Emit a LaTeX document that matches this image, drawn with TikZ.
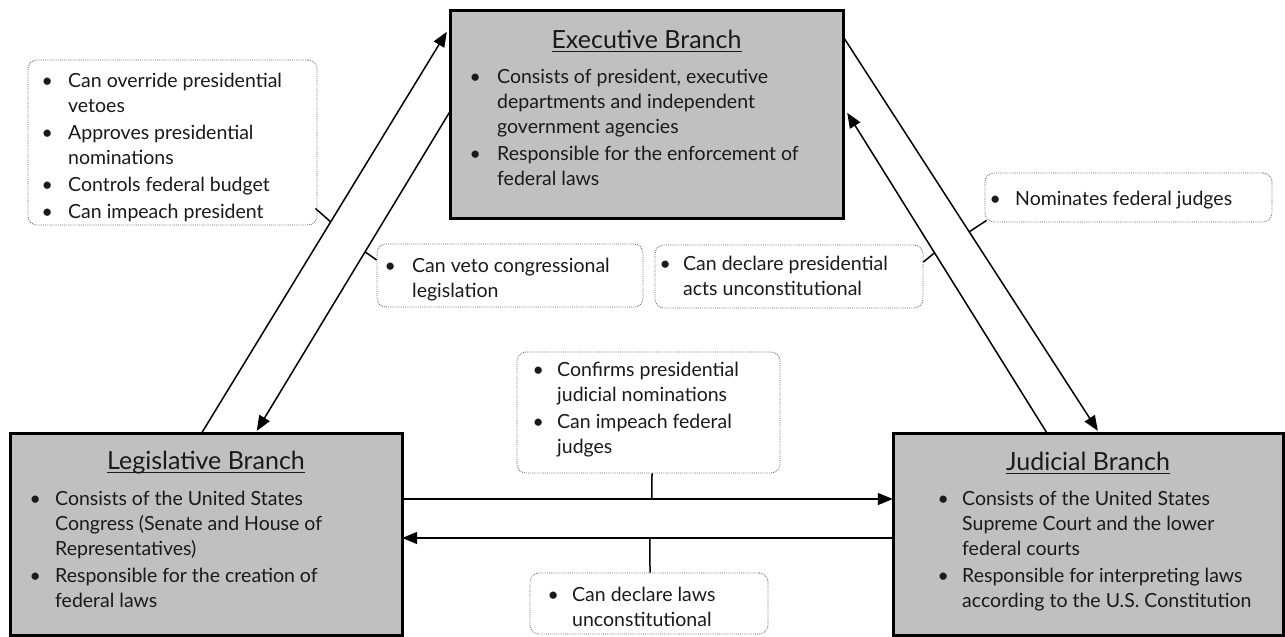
\documentclass[tikz,border=0pt]{standalone}
\usepackage{fontspec}
\setmainfont{Lato}
\usetikzlibrary{arrows.meta}
\definecolor{boxgray}{HTML}{C0C0C0}
\definecolor{dotgray}{HTML}{606060}
\definecolor{txt}{HTML}{1A1A1A}
\newcommand\ul[1]{\setbox0\hbox{#1}\rlap{\rule[-4pt]{\wd0}{1.4pt}}\box0}
\newcommand\bi[2]{\hbox{\makebox[0pt]{\textbullet}\hspace*{#1}#2}}
\newcommand\ci[2]{\hbox{\hspace*{#1}#2}}
\newcommand\tb[1]{\vtop{\baselineskip=25pt\lineskiplimit=-20pt #1}}
\tikzset{
  branch/.style={draw=black, line width=3pt, fill=boxgray, inner sep=0pt},
  callout/.style={draw=dotgray, line width=0.8pt, dash pattern=on 0.8pt off 1.1pt, rounded corners=9pt, inner sep=0pt},
  tx/.style={inner sep=0pt, anchor=base west, text=txt, font=\fontsize{19.5}{25}\selectfont},
  ttl/.style={inner sep=0pt, anchor=base, text=txt, font=\fontsize{25}{29}\selectfont},
  arr/.style={line width=1.5pt, -{Triangle[length=15pt,width=12pt]}},
  link/.style={line width=1.5pt},
}
\begin{document}
\begin{tikzpicture}[x=1pt,y=-1pt]
\useasboundingbox (0,0) rectangle (1285,637);
% geometry of branch boxes (named first, for the connectors)
\path (646.5,114) node[minimum width=393pt, minimum height=208pt, inner sep=0pt] (exec) {};
\path (206,534) node[minimum width=392pt, minimum height=202pt, inner sep=0pt] (leg) {};
\path (1088,534) node[minimum width=390pt, minimum height=202pt, inner sep=0pt] (jud) {};
% arrows
\draw[arr] ([xshift=192pt]leg.north west) -- coordinate[pos=0.526] (p1) ([xshift=-3pt,yshift=-22pt]exec.north west);
\draw[arr] ([yshift=-102pt]exec.north west) -- coordinate[pos=0.439] (p2) ([xshift=247pt,yshift=2pt]leg.north west);
\draw[arr] ([yshift=-27pt]exec.north east) -- coordinate[pos=0.495] (p4) ([xshift=205pt,yshift=2pt]jud.north west);
\draw[arr] ([xshift=154pt]jud.north west) -- coordinate[pos=0.5625] (p3) ([xshift=4pt,yshift=-103pt]exec.north east);
\draw[arr] ([yshift=35pt]leg.east) -- coordinate[pos=0.509] (p5) ([yshift=35pt]jud.west);
\draw[arr] ([yshift=-4pt]jud.west) -- coordinate[pos=0.495] (p6) ([yshift=-4pt]leg.east);
% branch boxes
\node[branch, minimum width=393pt, minimum height=208pt] (execb) at (exec) {};
\node[branch, minimum width=392pt, minimum height=202pt] (legb) at (leg) {};
\node[branch, minimum width=390pt, minimum height=202pt] (judb) at (jud) {};
\node[ttl] (exect) at (646.5,48) {\ul{Executive Branch}};
\node[ttl] (legt) at (206,469) {\ul{Legislative Branch}};
\node[ttl] (judt) at (1088,470) {\ul{Judicial Branch}};
\node[tx] (exectx) at (475,83) {\tb{\bi{22pt}{Consists of president, executive}\ci{22pt}{departments and independent}\ci{22pt}{government agencies}\vskip2pt\bi{22pt}{Responsible for the enforcement of}\ci{22pt}{federal laws}}};
\node[tx] (legtx) at (35,505) {\tb{\bi{20pt}{Consists of the United States}\ci{20pt}{Congress (Senate and House of}\ci{20pt}{Representatives)}\vskip2pt\bi{20pt}{Responsible for the creation of}\ci{20pt}{federal laws}}};
\node[tx] (judtx) at (943,505) {\tb{\bi{19pt}{Consists of the United States}\ci{19pt}{Supreme Court and the lower}\ci{19pt}{federal courts}\vskip2pt\bi{19pt}{Responsible for interpreting laws}\ci{19pt}{according to the U.S. Constitution}}};
% callouts
\node[callout, minimum width=289pt, minimum height=165pt] (c1) at (172.5,142.5) {};
\node[callout, minimum width=266pt, minimum height=63pt] (c2) at (510,275.5) {};
\node[callout, minimum width=268pt, minimum height=63pt] (c3) at (789,276.5) {};
\node[callout, minimum width=287pt, minimum height=49pt] (c4) at (1128.5,197.5) {};
\node[callout, minimum width=263pt, minimum height=121pt] (c5) at (648.5,412.5) {};
\node[callout, minimum width=238pt, minimum height=61pt] (c6) at (649,603.5) {};
\node[tx] (c1t) at (47,87) {\tb{\bi{21pt}{Can override presidential}\ci{21pt}{vetoes}\vskip2pt\bi{21pt}{Approves presidential}\ci{21pt}{nominations}\vskip2pt\bi{21pt}{Controls federal budget}\vskip2pt\bi{21pt}{Can impeach president}}};
\node[tx] (c2t) at (390,272) {\tb{\bi{22pt}{Can veto congressional}\ci{22pt}{legislation}}};
\node[tx] (c3t) at (665,270) {\tb{\bi{18pt}{Can declare presidential}\ci{18pt}{acts unconstitutional}}};
\node[tx] (c4t) at (995,205) {\tb{\bi{20pt}{Nominates federal judges}}};
\node[tx] (c5t) at (538,376) {\tb{\bi{19pt}{Confirms presidential}\ci{19pt}{judicial nominations}\vskip2pt\bi{19pt}{Can impeach federal}\ci{19pt}{judges}}};
\node[tx] (c6t) at (553,601) {\tb{\bi{19pt}{Can declare laws}\ci{19pt}{unconstitutional}}};
% connectors
\draw[link] ([xshift=-2pt,yshift=17pt]c1.south east) -- (p1);
\draw[link] ([yshift=15.5pt]c2.west) -- (p2);
\draw[link] ([yshift=14.5pt]c3.east) -- (p3);
\draw[link] ([xshift=2pt,yshift=2pt]c4.south west) -- (p4);
\draw[link] ([xshift=3.5pt]c5.south) -- (p5);
\draw[link] ([xshift=1pt]c6.north) -- (p6);
\end{tikzpicture}
\end{document}
